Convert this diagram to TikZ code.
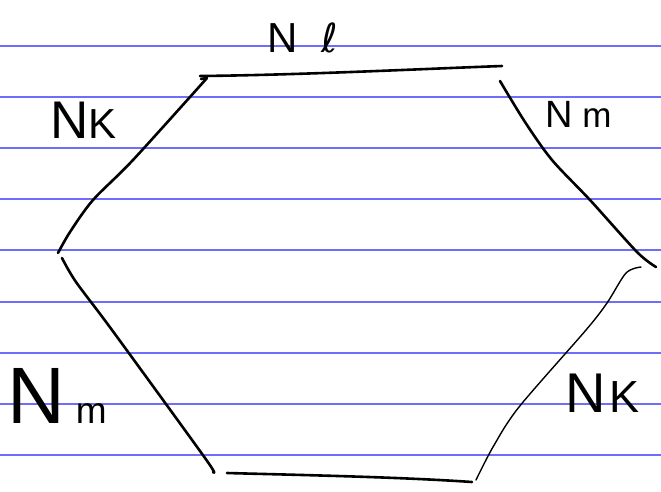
\documentclass[tikz,border=0pt]{standalone}
\usepackage{fontspec}
\setmainfont{Liberation Sans}
\newfontfamily\djv{DejaVu Sans}
\definecolor{rule}{RGB}{110,110,250}
\begin{document}
\begin{tikzpicture}[x=1pt,y=-1pt,
  ruleline/.style={draw=rule,line width=2pt},
  stroke/.style={draw=black,line width=2.6pt,line cap=round,line join=round},
  thinstroke/.style={draw=black,line width=1.4pt,line cap=round,line join=round},
  lbl/.style={inner sep=0pt,outer sep=0pt,anchor=base west,text=black}]
\useasboundingbox[fill=white] (0,0) rectangle (661,491);
% ruled paper
\foreach \yy in {46,97,148,199,250,302,353,404,455}
  \draw[ruleline] (0,\yy) -- (661,\yy);
% stroke end points
\coordinate (t1) at (200,76);  \coordinate (t2) at (502,66);
\coordinate (lu1) at (207,78); \coordinate (lu2) at (58,253);
\coordinate (ll1) at (62,258); \coordinate (ll2) at (213,472);
\coordinate (b1) at (227,473); \coordinate (b2) at (472,482);
\coordinate (rl1) at (476,480); \coordinate (rl2) at (641,267);
\coordinate (ru1) at (500,81); \coordinate (ru2) at (656,267);
% edges
\draw[stroke] (t1) .. controls (300,75) and (420,69) .. (t2);
\draw[stroke] plot[smooth,tension=0.5] coordinates {(lu1) (133,160) (93,200) (70,232) (lu2)};
\draw[stroke] (lu1) -- ++(-6,1);
\draw[stroke] plot[smooth,tension=0.5] coordinates {(ll1) (76,282) (112,330) (205,458) (ll2)};
\draw[stroke] (b1) .. controls (300,475) and (400,477) .. (b2);
\draw[thinstroke] plot[smooth,tension=0.5] coordinates {(rl1) (493,447) (519,407) (586,330) (607,303) (626,273) (rl2)};
\draw[stroke] plot[smooth,tension=0.5] coordinates {(ru1) (525,122) (552,160) (590,200) (637,252) (ru2)};
% labels
\node[lbl] (nl) at (267,52) {\fontsize{42}{42}\selectfont N\hspace{24pt}{\djv\fontsize{40}{40}\selectfont ℓ}};
\node[lbl] (nk1) at (50,138) {\fontsize{53}{53}\selectfont N\fontsize{42}{42}\selectfont K};
\node[lbl] (nm1) at (545,127) {\fontsize{38}{38}\selectfont N\hspace{10pt}\fontsize{35}{35}\selectfont m};
\node[lbl] (nm2) at (8,423) {\fontsize{80}{80}\selectfont N\hspace{10pt}\fontsize{37}{37}\selectfont m};
\node[lbl] (nk2) at (565,412) {\fontsize{56}{56}\selectfont N\hspace{4pt}\fontsize{45}{45}\selectfont K};
\end{tikzpicture}
\end{document}
